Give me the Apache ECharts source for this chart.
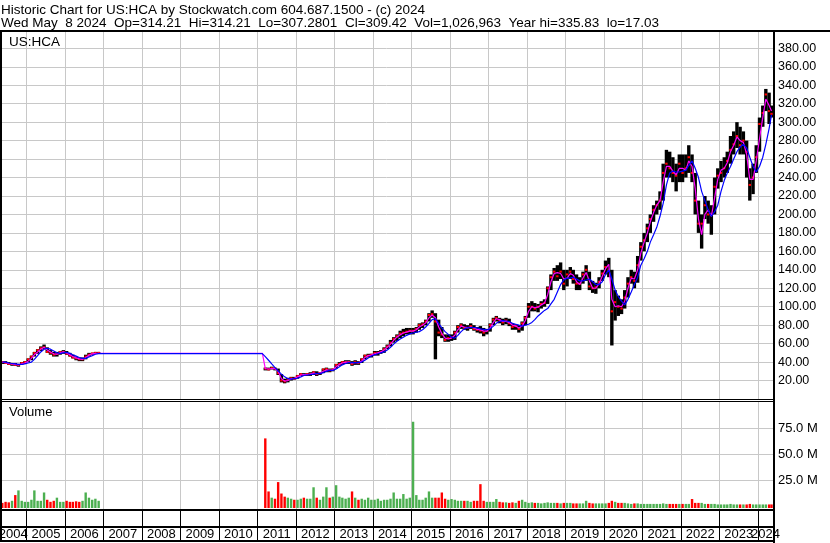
<!DOCTYPE html>
<html><head><meta charset="utf-8">
<script src="https://cdn.jsdelivr.net/npm/echarts@6/dist/echarts.min.js"></script>
<style>html,body{margin:0;padding:0;background:#fff}#c{width:830px;height:543px}</style>
</head><body><div id="c"></div>
<script>
// ---------- DATA (monthly) ----------
const dates = [
 '2004-05-15','2004-06-15','2004-07-15','2004-08-15','2004-09-15','2004-10-15','2004-11-15','2004-12-15',
 '2005-01-15','2005-02-15','2005-03-15','2005-04-15','2005-05-15','2005-06-15','2005-07-15','2005-08-15','2005-09-15','2005-10-15','2005-11-15','2005-12-15',
 '2006-01-15','2006-02-15','2006-03-15','2006-04-15','2006-05-15','2006-06-15','2006-07-15','2006-08-15','2006-09-15','2006-10-15','2006-11-15',
 '2011-02-15','2011-03-15','2011-04-15','2011-05-15','2011-06-15','2011-07-15','2011-08-15','2011-09-15','2011-10-15','2011-11-15','2011-12-15',
 '2012-01-15','2012-02-15','2012-03-15','2012-04-15','2012-05-15','2012-06-15','2012-07-15','2012-08-15','2012-09-15','2012-10-15','2012-11-15','2012-12-15',
 '2013-01-15','2013-02-15','2013-03-15','2013-04-15','2013-05-15','2013-06-15','2013-07-15','2013-08-15','2013-09-15','2013-10-15','2013-11-15','2013-12-15',
 '2014-01-15','2014-02-15','2014-03-15','2014-04-15','2014-05-15','2014-06-15','2014-07-15','2014-08-15','2014-09-15','2014-10-15','2014-11-15','2014-12-15',
 '2015-01-15','2015-02-15','2015-03-15','2015-04-15','2015-05-15','2015-06-15','2015-07-15','2015-08-15','2015-09-15','2015-10-15','2015-11-15','2015-12-15',
 '2016-01-15','2016-02-15','2016-03-15','2016-04-15','2016-05-15','2016-06-15','2016-07-15','2016-08-15','2016-09-15','2016-10-15','2016-11-15','2016-12-15',
 '2017-01-15','2017-02-15','2017-03-15','2017-04-15','2017-05-15','2017-06-15','2017-07-15','2017-08-15','2017-09-15','2017-10-15','2017-11-15','2017-12-15',
 '2018-01-15','2018-02-15','2018-03-15','2018-04-15','2018-05-15','2018-06-15','2018-07-15','2018-08-15','2018-09-15','2018-10-15','2018-11-15','2018-12-15',
 '2019-01-15','2019-02-15','2019-03-15','2019-04-15','2019-05-15','2019-06-15','2019-07-15','2019-08-15','2019-09-15','2019-10-15','2019-11-15','2019-12-15',
 '2020-01-15','2020-02-15','2020-03-15','2020-04-15','2020-05-15','2020-06-15','2020-07-15','2020-08-15','2020-09-15','2020-10-15','2020-11-15','2020-12-15',
 '2021-01-15','2021-02-15','2021-03-15','2021-04-15','2021-05-15','2021-06-15','2021-07-15','2021-08-15','2021-09-15','2021-10-15','2021-11-15','2021-12-15',
 '2022-01-15','2022-02-15','2022-03-15','2022-04-15','2022-05-15','2022-06-15','2022-07-15','2022-08-15','2022-09-15','2022-10-15','2022-11-15','2022-12-15',
 '2023-01-15','2023-02-15','2023-03-15','2023-04-15','2023-05-15','2023-06-15','2023-07-15','2023-08-15','2023-09-15','2023-10-15','2023-11-15','2023-12-15',
 '2024-01-15','2024-02-15','2024-03-15','2024-04-15','2024-05-08'
];
const high = [
 41,41,40,39,39,38,40,41,
 44,47,51,54,57,59,56,53,51,51,52,53,
 52,50,48,46,45,45,48,50,50,51,51,
 null,34,34,35,34,33,27,22,23,24,24,
 26,28,28,28,29,30,30,29,33,34,33,33,
 38,40,41,42,42,41,42,41,44,48,49,49,
 52,52,53,56,59,64,67,70,74,76,77,77,
 77,78,82,83,86,93,96,93,86,78,70,70,
 70,74,80,82,81,80,82,80,78,79,77,76,
 82,88,90,88,87,88,87,82,81,80,84,90,
 104,106,104,103,106,108,122,135,142,145,148,140,
 140,143,140,135,132,138,145,138,128,126,132,140,
 150,153,140,118,112,108,118,132,140,138,155,170,
 180,190,200,210,215,225,255,270,268,262,255,265,
 265,265,275,265,245,215,200,220,215,210,240,250,
 258,262,268,285,290,300,295,290,280,250,255,275,
 305,318,336,332,318
];
const low = [
 38,38,37,36,36,35,37,38,
 40,42,46,49,52,54,50,48,46,46,48,49,
 48,46,44,42,41,41,43,46,48,49,49,
 null,31,31,32,31,26,18,17,18,20,21,
 22,25,25,25,25,26,25,26,28,29,29,30,
 33,36,37,38,38,36,37,37,39,43,45,45,
 47,47,49,50,54,57,61,63,66,68,70,70,
 70,72,75,77,80,84,88,43,68,66,62,62,
 63,64,72,76,75,74,76,74,72,71,68,70,
 73,80,84,82,80,81,79,75,75,72,74,80,
 88,95,95,94,98,100,103,118,128,128,130,118,
 122,130,125,118,118,125,128,118,115,114,120,128,
 135,132,58,85,90,92,98,110,125,120,126,150,
 160,170,180,192,200,205,215,240,240,235,225,235,
 235,240,245,235,200,180,163,195,190,178,200,228,
 235,240,245,255,265,272,265,265,240,215,222,245,
 268,295,312,298,305
];
const close = [
 40,39,38,38,37,37,39,40,
 43,46,50,53,55,56,51,50,48,49,51,51,
 49,47,45,44,43,43,46,48,49.5,50,50,
 null,33,32,33.5,33,28,20,19,21,22.5,22,
 25,27,26,27,27,29,27,28,32,32.5,31,32,
 37,38,40,40,40,38,40,39,43,47,47,48,
 50,50,51,54,57,61,65,68,71,72,73,74,
 74,76,80,81,84,91,92,84,72,70,64,66,
 67,72,78,80,77,77,79,76,75,74,72,74,
 80,86,88,85,83,85,82,78,79,76,82,88,
 100,100,98,100,103,104,120,132,138,133,138,125,
 135,138,130,125,125,135,140,122,120,121,127,136,
 143,140,95,105,100,98,110,125,132,128,145,165,
 172,185,195,205,210,215,245,255,250,245,242,255,
 245,250,262,245,215,190,190,210,200,200,230,242,
 245,250,258,270,276,285,275,280,268,232,240,262,
 298,310,330,312,309
];
// magenta (short) moving average
const maShort = [
 40,39.5,38.5,38,37.5,37,38,39,
 41,44,48,51,54,56,53,51,49,48.5,50,51,
 50,48,46,44.5,43.5,43,45,47.5,49,49.5,49.6,
 49.6,33,32.5,33,33,30,22,19.5,20,22,22.5,
 24,26,26.5,26.5,27,28,27.5,28,30,31.5,31,31.5,
 35,37.5,39,40,40,39,39.5,39.5,41,45,47,47.5,
 49,50,51,53,56,59.5,63.5,67,69.5,71.5,72.5,73.5,
 73.5,75,78,80,82.5,88,91,88,78,71,66,65,
 66,69,75,79,78,77.5,78,77,75.5,75,73.5,73.5,
 77,83,87,86,84,84,83,80,79,77,79,85,
 95,100,99,99.5,102,104,113,127,136,137,136,130,
 131,136,134,127,124,131,137,128,120,120,125,133,
 141,146,108,100,101,100,106,120,131,130,140,158,
 170,180,192,202,210,215,235,252,252,247,243,250,
 250,248,258,252,228,195,178,200,205,198,218,238,
 248,250,256,268,275,284,280,278,265,238,238,258,
 282,305,325,318,312
];
// blue (long) moving average
const maLong = [
 40,40,39,38.5,38,37.5,37.5,38,
 39,40,43,47,51,54,55,54,52,50,49.5,50,
 50.5,49.5,48,46.5,45,44,44,45.5,47,48.5,49.2,
 49.2,46,42,38,34,30.5,27,24,22,21.5,22,
 22.5,24,25.5,26,26.5,27,27.5,27.5,28.5,30,31,31,
 32.5,35,37,38.5,39.5,39.5,39.5,39.5,40,42,44.5,46.5,
 48,49,50,51,53,56,59.5,62.5,65,67,69,70.5,
 71.5,72.5,73,75,78,82,86,87,82,77,73,70,
 67,66,69,73,76,77,77.5,77.5,77,76,75.5,75,
 76,79,82,84,85,84.5,84,82,81,80,79,80,
 81,83,86,90,93,96,98,103,108,116,124,129,
 131,131,132,130,128,128,129,130,127,124,124,127,
 135,140,130,118,111,106,102,108,116,124,132,145,
 152,160,170,178,186,198,212,232,245,247,246,246,
 247,248,253,258,250,240,225,215,205,198,203,210,
 225,237,245,252,260,268,273,276,272,262,252,246,
 252,262,276,293,308
];
// volume, millions of shares
const volume = [
 3,4,3.5,5,10.5,15,5,4,
 4,6,15,5,5,13,6,4,5,8,4,4,
 5,4,4,4.5,4,5,13,8,6,7,5,
 null,65,14,8,7,23,12,9,8,7,6,
 6,7,8,7,7,18,8,6,9,18,8,9,
 20,9,8,7,8,14,8,6,7,6,8,6,
 6,7,5,6,6,7,13,7,7,11.5,7,8,
 81,10.5,6,6,8,14,8,8,8,13,7,6,
 6.7,6,5,5,5,5,4,5,5,21,5,4,
 4,4,6.7,4,3.5,3.5,3,3.5,3,5,6,4,
 3,3.5,3,3,2.5,3,3.5,3,3,3,2.5,3,
 3,3,2.5,2.5,2.5,2.5,5,3,2.5,2.5,2.5,2.5,
 2.5,3,5,4,3,3,3,2.5,2,2.5,2.5,2,
 2,2,2,2,2,2,2.5,2,2,2,2,2,
 2,2,2,6.7,3,3,3,2,2,2,2,1.5,
 1.5,1.5,1.5,2,1.5,1.5,1.5,1.5,1.5,2,1.5,1.5,
 1.5,1.5,1.5,1.5,1.5
];
const yearLabels = [2004,2005,2006,2007,2008,2009,2010,2011,2012,2013,2014,2015,2016,2017,2018,2019,2020,2021,2022,2023,2024];
const headerLine1 = 'Historic Chart for US:HCA by Stockwatch.com 604.687.1500 - (c) 2024';
const headerLine2 = 'Wed May  8 2024  Op=314.21  Hi=314.21  Lo=307.2801  Cl=309.42  Vol=1,026,963  Year hi=335.83  lo=17.03';
const symbolLabel = 'US:HCA';
const volumeLabel = 'Volume';

// ---------- build ----------
const T = s => { const p = String(s).split('-').map(Number); return new Date(p[0], (p[1]||1) - 1, p[2]||1).getTime(); };
const xMin = T('2004-04-23'), xMax = T('2024-05-22');
const FONT = '"Liberation Sans", Arial, sans-serif';

const barData = [], volData = [];
let prevClose = null;
dates.forEach((d, i) => {
  if (high[i] != null) barData.push([T(d), high[i], low[i], close[i]]);
  if (volume[i] != null) {
    const up = prevClose != null && close[i] >= prevClose;
    volData.push([T(d), volume[i], up ? 1 : 0]);
    prevClose = close[i];
  }
});
const maShortData = dates.map((d, i) => [T(d), maShort[i]]);
const maLongData = dates.map((d, i) => [T(d), maLong[i]]);
const yearData = yearLabels.map(y => [T(y + '-01-01'), y]);
const gridYearData = yearData.filter(d => d[0] > xMin);

const chart = echarts.init(document.getElementById('c'), null, {renderer: 'canvas'});

function vLines(extraBottom) {
  return function (params, api) {
    const cs = params.coordSys;
    const x = Math.floor(api.coord([api.value(0), 0])[0]) + 0.5;
    return {type: 'line', shape: {x1: x, y1: cs.y, x2: x, y2: cs.y + cs.height + extraBottom},
      style: {stroke: '#c8c8c8', lineWidth: 1}, silent: true};
  };
}

const option = {
  animation: false,
  backgroundColor: '#fff',
  grid: [
    {left: 0, top: 32, width: 773, height: 367},
    {left: 0, top: 402, width: 773, height: 104}
  ],
  xAxis: [
    {type: 'time', gridIndex: 0, min: xMin, max: xMax, show: false},
    {type: 'time', gridIndex: 1, min: xMin, max: xMax, show: false}
  ],
  yAxis: [
    {type: 'value', gridIndex: 0, position: 'right', min: 0, max: 397.7, interval: 20,
     axisLine: {show: false}, axisTick: {show: false},
     axisLabel: {margin: 5, fontSize: 12.5, fontFamily: FONT, color: '#000',
       formatter: v => (v > 0 && v <= 380) ? v.toFixed(2) : ''},
     splitLine: {show: true, showMinLine: false, showMaxLine: false, lineStyle: {color: '#c8c8c8', width: 1}}},
    {type: 'value', gridIndex: 1, position: 'right', min: 0, max: 100, interval: 25,
     axisLine: {show: false}, axisTick: {show: false},
     axisLabel: {margin: 5, fontSize: 13, fontFamily: FONT, color: '#000',
       formatter: v => (v > 0 && v < 100) ? v.toFixed(1) + ' M' : ''},
     splitLine: {show: true, showMinLine: false, showMaxLine: false, lineStyle: {color: '#c8c8c8', width: 1}}}
  ],
  series: [
    {type: 'custom', xAxisIndex: 0, yAxisIndex: 0, z: 1, silent: true, data: gridYearData,
     encode: {x: 0}, renderItem: vLines(0)},
    {type: 'custom', xAxisIndex: 1, yAxisIndex: 1, z: 1, silent: true, data: gridYearData,
     encode: {x: 0}, renderItem: vLines(3)},
    {type: 'custom', name: 'price', xAxisIndex: 0, yAxisIndex: 0, z: 2, silent: true, data: barData,
     encode: {x: 0, y: [1, 2, 3]},
     renderItem: (params, api) => {
       const t = api.value(0);
       const pH = api.coord([t, api.value(1)]), pL = api.coord([t, api.value(2)]), pC = api.coord([t, api.value(3)]);
       const w = 3.4;
       return {type: 'group', children: [
         {type: 'rect', shape: {x: pH[0] - w / 2, y: pH[1], width: w, height: Math.max(1, pL[1] - pH[1])}, style: {fill: '#000'}},
         {type: 'rect', shape: {x: pC[0] - 1.2, y: pC[1] - 1, width: 2.4, height: 2}, style: {fill: '#ff0000'}}
       ]};
     }},
    {type: 'line', name: 'MA short', xAxisIndex: 0, yAxisIndex: 0, z: 3, data: maShortData,
     showSymbol: false, lineStyle: {color: '#ff00ff', width: 1.2}, silent: true},
    {type: 'line', name: 'MA long', xAxisIndex: 0, yAxisIndex: 0, z: 4, data: maLongData,
     showSymbol: false, lineStyle: {color: '#0000ff', width: 1.2}, silent: true},
    {type: 'custom', name: 'volume', xAxisIndex: 1, yAxisIndex: 1, z: 2, silent: true, data: volData,
     encode: {x: 0, y: 1},
     renderItem: (params, api) => {
       const cs = params.coordSys;
       const p = api.coord([api.value(0), api.value(1)]);
       const w = 2.4, bottom = cs.y + cs.height + 2;
       return {type: 'rect', shape: {x: p[0] - w / 2, y: p[1], width: w, height: bottom - p[1]},
         style: {fill: api.value(2) ? '#4caf50' : '#ff0000'}};
     }},
    {type: 'custom', name: 'years', xAxisIndex: 1, yAxisIndex: 1, z: 5, silent: true, data: yearData,
     encode: {x: 0},
     renderItem: (params, api) => {
       const cs = params.coordSys;
       const yr = api.value(1);
       const xa = api.coord([api.value(0), 0])[0];
       const xb = api.coord([T((yr + 1) + '-01-01'), 0])[0];
       const L = cs.x, R = cs.x + cs.width;
       const ca = Math.max(xa, L), cb = Math.min(xb, R);
       const children = [];
       if (xa > L) {
         const x = Math.floor(xa) + 0.5;
         children.push({type: 'line', shape: {x1: x, y1: 510, x2: x, y2: 541}, style: {stroke: '#000', lineWidth: 1}});
       }
       children.push({type: 'text', style: {text: String(yr), x: (ca + cb) / 2, y: 534.5, align: 'center',
         verticalAlign: 'middle', font: '13px ' + FONT, fill: '#000'}});
       return {type: 'group', children};
     }}
  ],
  graphic: [
    {type: 'text', z: 100, x: 1, y: 10.5, style: {text: headerLine1, font: '13.5px ' + FONT, fill: '#000', verticalAlign: 'middle'}},
    {type: 'text', z: 100, x: 1, y: 23.5, style: {text: headerLine2, font: '13.5px ' + FONT, fill: '#000', verticalAlign: 'middle'}},
    {type: 'text', z: 100, x: 9, y: 42, style: {text: symbolLabel, font: '13.5px ' + FONT, fill: '#000', verticalAlign: 'middle'}},
    {type: 'text', z: 100, x: 9, y: 412.5, style: {text: volumeLabel, font: '13px ' + FONT, fill: '#000', verticalAlign: 'middle'}},
    {type: 'rect', z: 100, shape: {x: 0, y: 30, width: 830, height: 2}, style: {fill: '#000'}},
    {type: 'rect', z: 100, shape: {x: 0, y: 30, width: 2, height: 512}, style: {fill: '#000'}},
    {type: 'rect', z: 100, shape: {x: 773, y: 30, width: 2, height: 513}, style: {fill: '#000'}},
    {type: 'rect', z: 100, shape: {x: 0, y: 399, width: 774, height: 1}, style: {fill: '#000'}},
    {type: 'rect', z: 100, shape: {x: 0, y: 401, width: 774, height: 1}, style: {fill: '#000'}},
    {type: 'rect', z: 100, shape: {x: 0, y: 509, width: 774, height: 2}, style: {fill: '#000'}},
    {type: 'rect', z: 100, shape: {x: 0, y: 526, width: 774, height: 2}, style: {fill: '#000'}},
    {type: 'rect', z: 100, shape: {x: 0, y: 540, width: 774, height: 2}, style: {fill: '#000'}}
  ]
};
chart.setOption(option);
</script>
</body></html>
